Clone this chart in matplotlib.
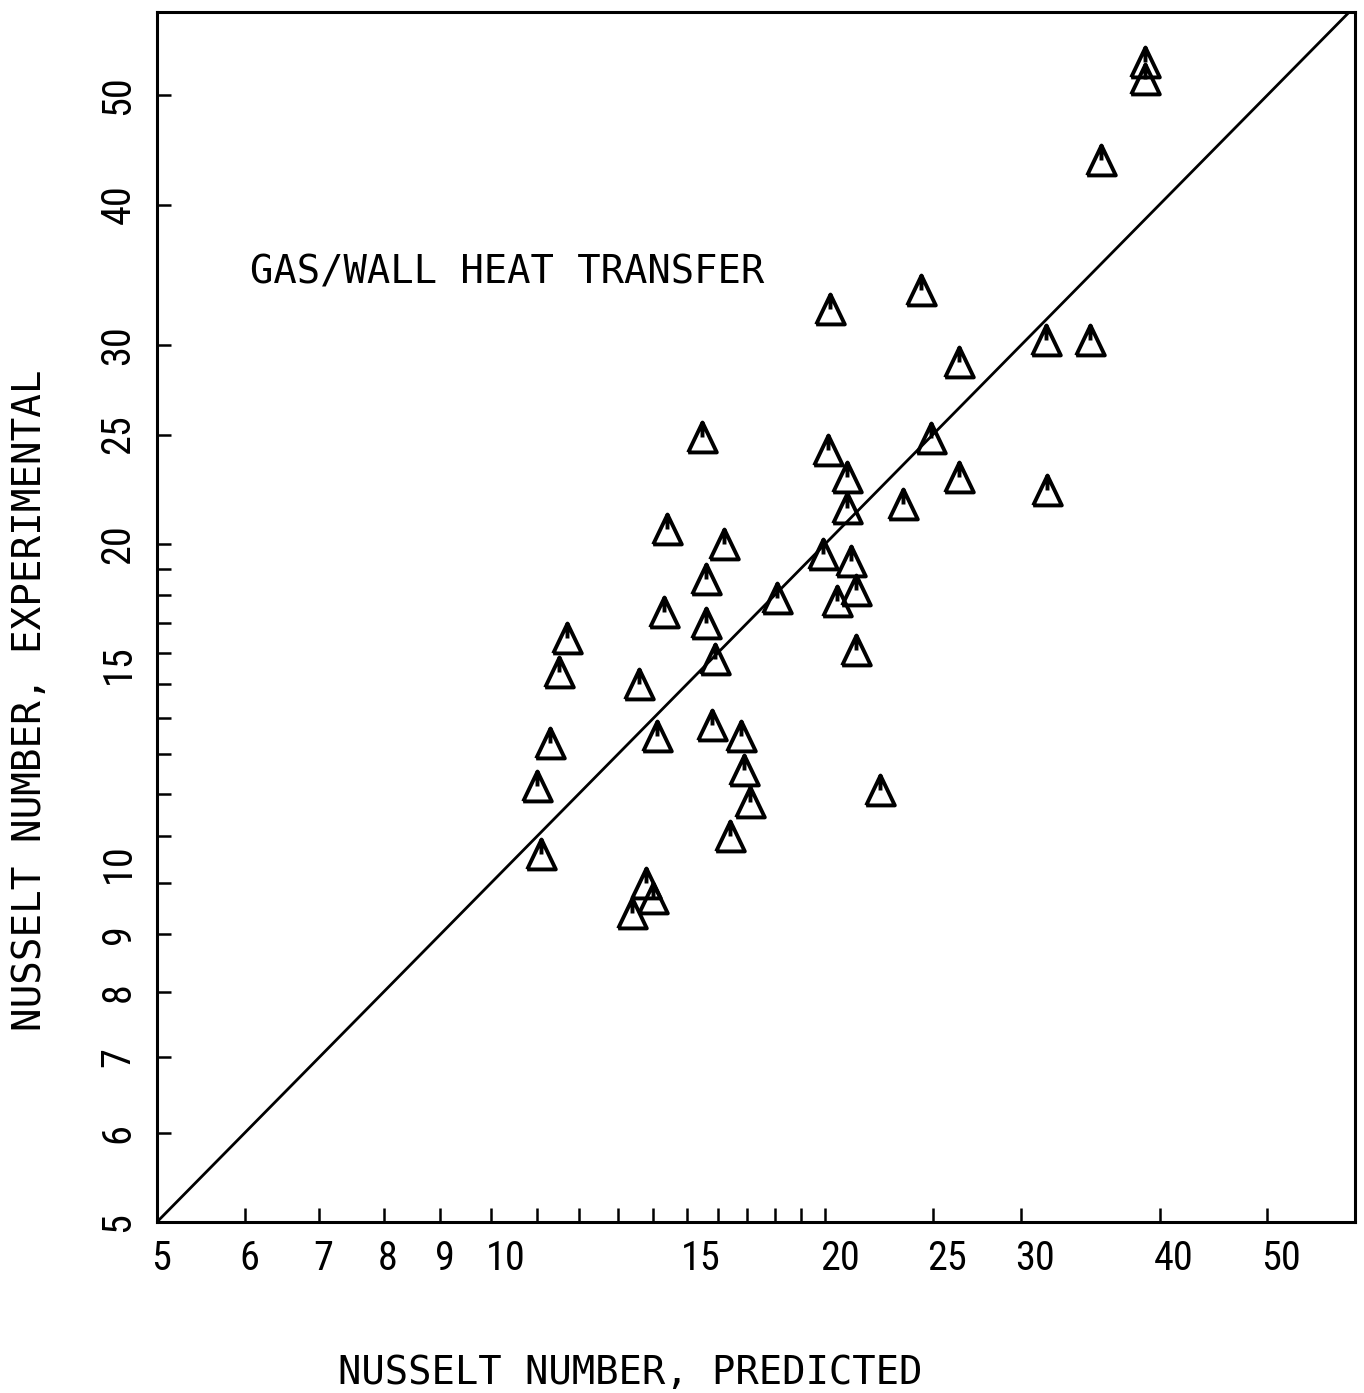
import matplotlib
matplotlib.use("Agg")
import matplotlib.pyplot as plt
from matplotlib import font_manager as fm
from matplotlib.path import Path
from matplotlib.transforms import ScaledTranslation

# ---- data: predicted vs experimental Nusselt number ----
nu_predicted = [38.8, 38.8, 35.4, 24.4, 20.2, 31.6, 34.6, 26.4, 15.5, 24.9,
                20.1, 20.9, 26.4, 31.7, 20.9, 23.5, 14.4, 16.2, 19.9, 21.1,
                15.6, 18.1, 20.5, 21.3, 14.3, 15.6, 11.7, 21.3, 15.9, 11.5,
                13.6, 15.8, 14.1, 16.8, 11.3, 16.9, 11.0, 22.4, 17.1, 16.4,
                11.1, 13.8, 14.0, 13.4]
nu_experimental = [53.5, 51.7, 43.8, 33.6, 32.3, 30.3, 30.3, 29.0, 24.9, 24.8,
                   24.2, 22.9, 22.9, 22.3, 21.5, 21.7, 20.6, 20.0, 19.6, 19.3,
                   18.6, 17.9, 17.8, 18.2, 17.4, 17.0, 16.5, 16.1, 15.8, 15.4,
                   15.0, 13.8, 13.5, 13.5, 13.3, 12.6, 12.2, 12.1, 11.8, 11.0,
                   10.6, 10.0, 9.7, 9.4]

x_limits = (5, 60)
y_limits = (5, 59.3)
tick_values = [5, 6, 7, 8, 9, 10, 11, 12, 13, 14, 15, 16, 17, 18, 19, 20, 25, 30, 40, 50]
labelled_ticks = [5, 6, 7, 8, 9, 10, 15, 20, 25, 30, 40, 50]
tick_labels = [str(v) if v in labelled_ticks else "" for v in tick_values]


def pick_family(candidates, default="DejaVu Sans"):
    for name in candidates:
        try:
            fm.findfont(fm.FontProperties(family=name), fallback_to_default=False)
            return name
        except ValueError:
            continue
    return default


digit_font = pick_family(["Liberation Sans Narrow", "DejaVu Sans Condensed", "Roboto Condensed"])
text_font = pick_family(["DejaVu Sans Mono", "Liberation Mono"])

ink = "black"

# open triangle with a short stroke hanging from its apex
tri_verts = [(-0.48, -0.5), (0.48, -0.5), (0.0, 0.5), (-0.48, -0.5), (0.0, 0.5), (0.0, 0.0)]
tri_codes = [Path.MOVETO, Path.LINETO, Path.LINETO, Path.LINETO, Path.MOVETO, Path.LINETO]
tri_marker = Path(tri_verts, tri_codes)

fig = plt.figure(figsize=(13.64, 13.93), dpi=100)
ax = fig.add_axes([0.1151, 0.1228, 0.8783, 0.8686])

ax.set_xscale("log")
ax.set_yscale("log")
ax.set_xlim(*x_limits)
ax.set_ylim(*y_limits)

# line of perfect agreement
ax.plot([5, 60], [5, 60], color=ink, lw=2.0, solid_capstyle="round")

ax.plot(nu_predicted, nu_experimental, linestyle="none", marker=tri_marker,
        markersize=21.5, markerfacecolor="none", markeredgecolor=ink,
        markeredgewidth=2.8)

for spine in ax.spines.values():
    spine.set_linewidth(2.2)
    spine.set_color(ink)

for axis in (ax.xaxis, ax.yaxis):
    axis.set_minor_locator(matplotlib.ticker.NullLocator())

ax.set_xticks(tick_values)
ax.set_xticklabels(tick_labels, fontsize=29, family=digit_font, ha="left")
ax.set_yticks(tick_values)
ax.set_yticklabels(tick_labels, fontsize=29, family=digit_font,
                   rotation=90, va="center")
ax.tick_params(axis="both", which="major", direction="in", length=10,
               width=1.8, color=ink)
ax.tick_params(axis="x", pad=12, top=False)
ax.tick_params(axis="y", pad=14, right=False)

# the "10" and "15" labels on the vertical axis sit just above their ticks
for tick, value in zip(ax.yaxis.get_major_ticks(), tick_values):
    if value in (10, 15):
        tick.label1.set_va("bottom")

# horizontal labels start right at their tick marks
nudge = ScaledTranslation(-4 / 72, 0, fig.dpi_scale_trans)
for tick in ax.xaxis.get_major_ticks():
    tick.label1.set_transform(tick.label1.get_transform() + nudge)

ax.set_xlabel("NUSSELT NUMBER, PREDICTED", fontsize=28, family=text_font, va="center")
ax.xaxis.set_label_coords(0.395, -0.1245)
ax.set_ylabel("NUSSELT NUMBER, EXPERIMENTAL", fontsize=28.3, family=text_font,
              va="center", ha="center")
ax.yaxis.set_label_coords(-0.106, 0.431)

ax.text(0.0776, 0.785, "GAS/WALL HEAT TRANSFER", transform=ax.transAxes,
        fontsize=28, family=text_font, ha="left", va="center")

fig.savefig("out.png", dpi=100)
